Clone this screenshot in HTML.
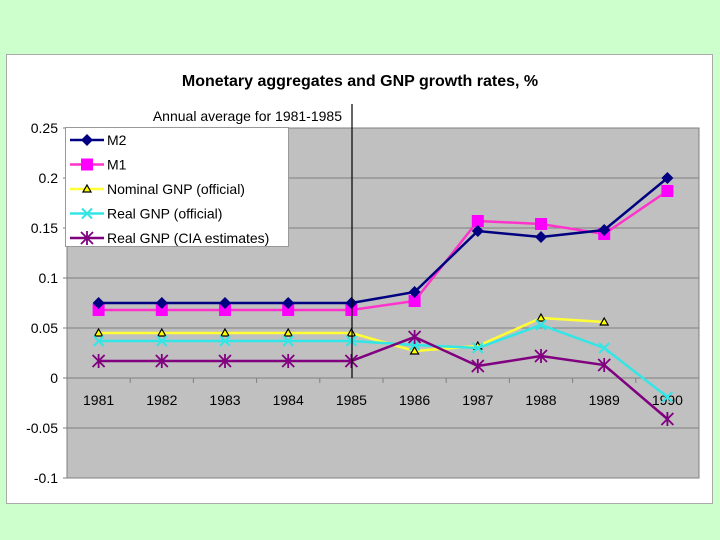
<!DOCTYPE html>
<html><head><meta charset="utf-8"><style>
body{margin:0;background:#ccffcc;width:720px;height:540px;overflow:hidden;font-family:"Liberation Sans",Arial,sans-serif}
</style></head><body>
<svg width="720" height="540" style="position:absolute;left:0;top:0">
<rect x="6.5" y="54.5" width="706" height="449" fill="#fff" stroke="#aaa"/>
<text x="360" y="86" text-anchor="middle" font-weight="bold" font-size="16">Monetary aggregates and GNP growth rates, %</text>
<rect x="67" y="128" width="632" height="350" fill="#c0c0c0" stroke="#808080"/>
<g id="grid"></g><g id="ticks"></g><g id="series"></g>
<line x1="352" y1="104" x2="352" y2="378" stroke="#000" stroke-width="1.2"/>
<text x="342" y="121" text-anchor="end" font-size="14">Annual average for 1981-1985</text>
<g id="legend"></g>
</svg>
<script>
const categories=['1981','1982','1983','1984','1985','1986','1987','1988','1989','1990'];
const yTicks=[0.25,0.2,0.15,0.1,0.05,0,-0.05,-0.1];
const yTickLabels=['0.25','0.2','0.15','0.1','0.05','0','-0.05','-0.1'];
const m2=[0.075,0.075,0.075,0.075,0.075,0.086,0.147,0.141,0.148,0.200];
const m1=[0.068,0.068,0.068,0.068,0.068,0.077,0.157,0.154,0.144,0.187];
const nominalGnp=[0.045,0.045,0.045,0.045,0.045,0.027,0.032,0.060,0.056,null];
const realGnp=[0.037,0.037,0.037,0.037,0.037,0.033,0.030,0.053,0.030,-0.019];
const ciaGnp=[0.017,0.017,0.017,0.017,0.017,0.041,0.012,0.022,0.013,-0.041];
const seriesNames=['M2','M1','Nominal GNP (official)','Real GNP (official)','Real GNP (CIA estimates)'];
const NS='http://www.w3.org/2000/svg';
const L=67,R=699,T=128,B=478,yMax=0.25,yMin=-0.1;
const step=(R-L)/categories.length;
const xs=i=>L+step*(i+0.5);
const ys=v=>T+(yMax-v)/(yMax-yMin)*(B-T);
function mk(tag,a,p){const e=document.createElementNS(NS,tag);for(const k in a)e.setAttribute(k,a[k]);p.appendChild(e);return e;}
const grid=document.getElementById('grid'),ticks=document.getElementById('ticks'),sg=document.getElementById('series'),lg=document.getElementById('legend');
yTicks.forEach((v,i)=>{
 const y=ys(v);
 if(v<yMax&&v>yMin){const g=mk('line',{x1:L,x2:R,y1:y,y2:y,stroke:'#808080'},grid);
 
 }
 mk('line',{x1:L-4,x2:L,y1:y,y2:y,stroke:'#808080'},ticks);
 const t=mk('text',{x:L-9,y:y+5,'text-anchor':'end','font-size':14},ticks);t.textContent=yTickLabels[i];
 
 
});
const y0=ys(0);
categories.forEach((c,i)=>{
 const xb=L+step*i;
 if(i>0)mk('line',{x1:xb,x2:xb,y1:y0,y2:y0+5,stroke:'#808080'},ticks);
 const t=mk('text',{x:xs(i),y:y0+27,'text-anchor':'middle','font-size':14},ticks);t.textContent=c;
 
 
});
function marker(type,x,y,col,p){
 if(type==='diamond')mk('polygon',{points:`${x},${y-6} ${x+6},${y} ${x},${y+6} ${x-6},${y}`,fill:'#000080'},p);
 else if(type==='square')mk('rect',{x:x-6,y:y-6,width:12,height:12,fill:'#ff00ff'},p);
 else if(type==='tri')mk('polygon',{points:`${x},${y-4} ${x+4},${y+3} ${x-4},${y+3}`,fill:'#ffff00',stroke:'#000','stroke-width':1.2},p);
 else if(type==='x'){mk('path',{d:`M${x-5} ${y-5}L${x+5} ${y+5}M${x-5} ${y+5}L${x+5} ${y-5}`,stroke:col,'stroke-width':2},p);}
 else if(type==='star'){mk('path',{d:`M${x-6} ${y-6}L${x+6} ${y+6}M${x-6} ${y+6}L${x+6} ${y-6}M${x} ${y-7}L${x} ${y+7}`,stroke:col,'stroke-width':1.8},p);}
}
const defs=[[nominalGnp,'#ffff33','tri','series-nominal-gnp'],[realGnp,'#33e6e6','x','series-real-gnp'],[ciaGnp,'#800080','star','series-cia-gnp'],[m1,'#ff33cc','square','series-m1'],[m2,'#000080','diamond','series-m2']];
defs.forEach(([data,col,mkType,name])=>{
 const g=mk('g',{},sg);
 
 
 let d='';data.forEach((v,i)=>{if(v===null)return;d+=(d?'L':'M')+xs(i)+' '+ys(v);});
 mk('path',{d:d,fill:'none',stroke:col,'stroke-width':2.5},g);
 data.forEach((v,i)=>{if(v!==null)marker(mkType,xs(i),ys(v),col,g);});
});
mk('rect',{x:65.5,y:127.5,width:223,height:119,fill:'#fff',stroke:'#999'},lg);
const lcols=['#000080','#ff33cc','#ffff33','#33e6e6','#800080'],lmk=['diamond','square','tri','x','star'];
seriesNames.forEach((n,i)=>{
 const y=140+i*24.5;
 const e=mk('g',{},lg);
 
 
 mk('line',{x1:70,x2:104,y1:y,y2:y,stroke:lcols[i],'stroke-width':2.5},e);
 marker(lmk[i],87,y,lcols[i],e);
 const t=mk('text',{x:107,y:y+5,'font-size':14},e);t.textContent=n;
});
</script>
</body></html>
